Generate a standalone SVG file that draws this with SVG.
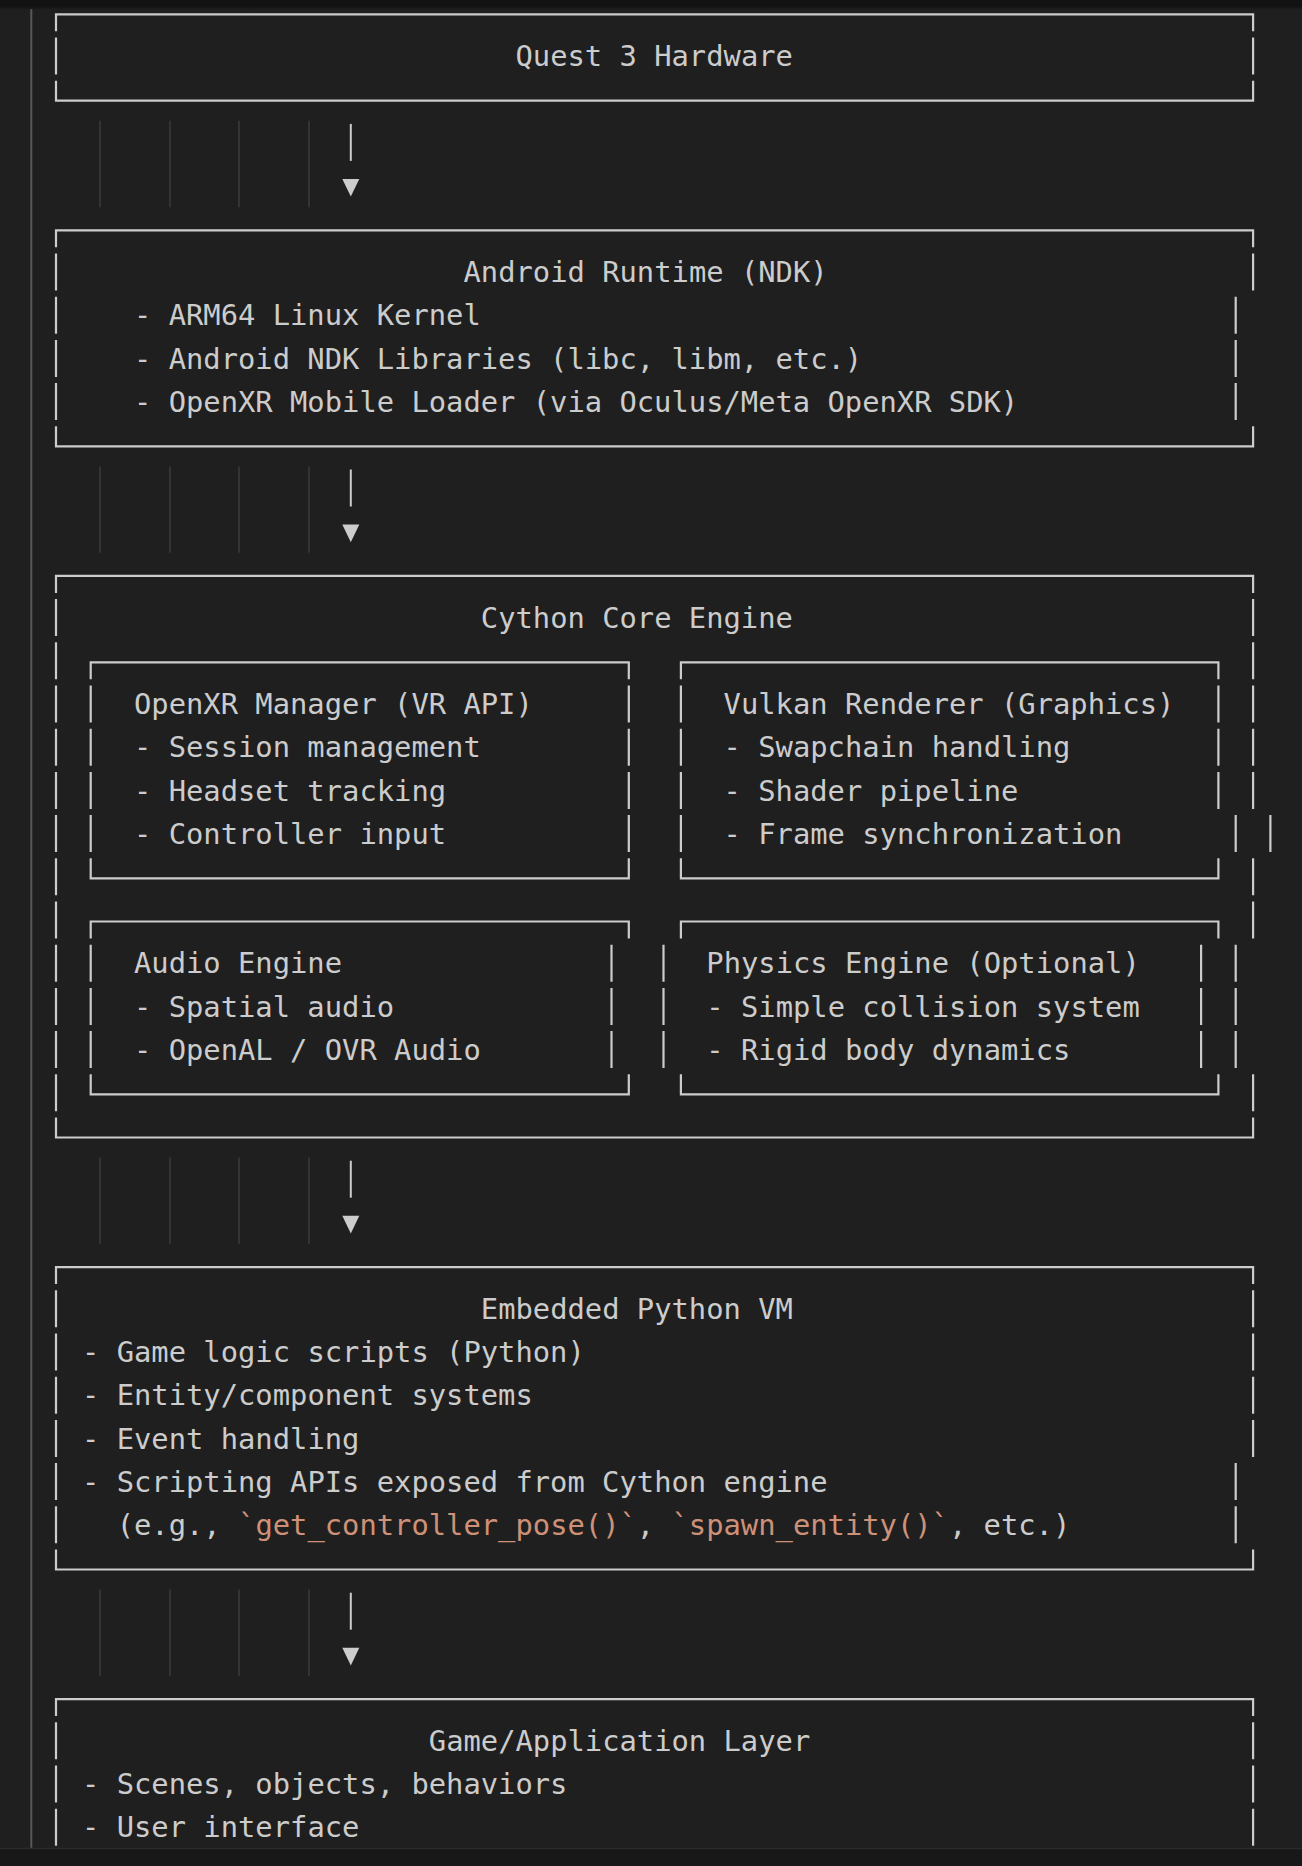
<svg xmlns="http://www.w3.org/2000/svg" width="1302" height="1866" viewBox="0 0 1302 1866">
<style>
.t{font-family:"DejaVu Sans Mono","Liberation Mono",monospace;font-size:28.8px;fill:#cccccc;white-space:pre}
.code{fill:#ce9178}
.box{fill:none;stroke:#cccccc;stroke-width:2.2;stroke-linejoin:miter}
.guide{stroke:#404040;stroke-width:1.3}
.stem{stroke:#cccccc;stroke-width:2}
.head{fill:#cccccc}
</style>
<defs>
<linearGradient id="shadow" x1="0" y1="0" x2="0" y2="1">
<stop offset="0" stop-color="#121212" stop-opacity="1"/>
<stop offset="1" stop-color="#121212" stop-opacity="0"/>
</linearGradient>
<path id="arrowhead" d="M-8.5,-6.6H8.5L0,11Z"/>
</defs>
<rect width="1302" height="1866" fill="#1f1f1f"/>
<line x1="31.3" y1="9" x2="31.3" y2="1848" stroke="#585858" stroke-width="2"/>

<g id="guides">
<path class="guide" d="M100,120.8V207.2M170,120.8V207.2M239,120.8V207.2M309,120.8V207.2"/>
<path class="guide" d="M100,466.4V552.8M170,466.4V552.8M239,466.4V552.8M309,466.4V552.8"/>
<path class="guide" d="M100,1157.6V1244M170,1157.6V1244M239,1157.6V1244M309,1157.6V1244"/>
<path class="guide" d="M100,1589.6V1676M170,1589.6V1676M239,1589.6V1676M309,1589.6V1676"/>
</g>

<g id="connectors">
<g id="c-hw-android"><path class="stem" d="M350.8,123.9V160.9"/><use href="#arrowhead" class="head" x="350.8" y="185.6"/></g>
<g id="c-android-cython"><path class="stem" d="M350.8,469.5V506.5"/><use href="#arrowhead" class="head" x="350.8" y="531.2"/></g>
<g id="c-cython-python"><path class="stem" d="M350.8,1160.7V1197.7"/><use href="#arrowhead" class="head" x="350.8" y="1222.4"/></g>
<g id="c-python-game"><path class="stem" d="M350.8,1592.7V1629.7"/><use href="#arrowhead" class="head" x="350.8" y="1654.4"/></g>
</g>

<g id="quest3">
<path class="box" d="M56,31.3V14.3H1253.1V31.3M56,37.5V74.5M1253.1,37.5V74.5M56,80.7V100.7H1253.1V80.7"/>
<text class="t" x="515.5" y="66.2">Quest 3 Hardware</text>
</g>

<g id="android">
<path class="box" d="M56,247.3V230.3H1253.1V247.3M56,253.5V290.5M1253.1,253.5V290.5M56,296.7V333.7M1235.7,296.7V333.7M56,339.9V376.9M1235.7,339.9V376.9M56,383.1V420.1M1235.7,383.1V420.1M56,426.3V446.3H1253.1V426.3"/>
<text class="t" x="463.5" y="282.2">Android Runtime (NDK)</text>
<text class="t" x="134" y="325.4">- ARM64 Linux Kernel</text>
<text class="t" x="134" y="368.6">- Android NDK Libraries (libc, libm, etc.)</text>
<text class="t" x="134" y="411.8">- OpenXR Mobile Loader (via Oculus/Meta OpenXR SDK)</text>
</g>

<g id="cython">
<path class="box" d="M56,592.9V575.9H1253.1V592.9M56,599.1V636.1M56,642.3V679.3M56,685.5V722.5M56,728.7V765.7M56,771.9V808.9M56,815.1V852.1M56,858.3V895.3M56,901.5V938.5M56,944.7V981.7M56,987.9V1024.9M56,1031.1V1068.1M56,1074.3V1111.3M1253.1,599.1V636.1M1253.1,642.3V679.3M1253.1,685.5V722.5M1253.1,728.7V765.7M1253.1,771.9V808.9M1270.4,815.1V852.1M1253.1,858.3V895.3M1253.1,901.5V938.5M1235.7,944.7V981.7M1235.7,987.9V1024.9M1235.7,1031.1V1068.1M1253.1,1074.3V1111.3M56,1117.5V1137.5H1253.1V1117.5"/>
<text class="t" x="480.8" y="627.8">Cython Core Engine</text>

<g id="openxr-manager">
<path class="box" d="M90.7,679.3V662.3H628.8V679.3M90.7,685.5V722.5M628.8,685.5V722.5M90.7,728.7V765.7M628.8,728.7V765.7M90.7,771.9V808.9M628.8,771.9V808.9M90.7,815.1V852.1M628.8,815.1V852.1M90.7,858.3V878.3H628.8V858.3"/>
<text class="t" x="134" y="714.2">OpenXR Manager (VR API)</text>
<text class="t" x="134" y="757.4">- Session management</text>
<text class="t" x="134" y="800.6">- Headset tracking</text>
<text class="t" x="134" y="843.8">- Controller input</text>
</g>

<g id="vulkan-renderer">
<path class="box" d="M680.9,679.3V662.3H1218.4V679.3M680.9,685.5V722.5M1218.4,685.5V722.5M680.9,728.7V765.7M1218.4,728.7V765.7M680.9,771.9V808.9M1218.4,771.9V808.9M680.9,815.1V852.1M1235.7,815.1V852.1M680.9,858.3V878.3H1218.4V858.3"/>
<text class="t" x="723.6" y="714.2">Vulkan Renderer (Graphics)</text>
<text class="t" x="723.6" y="757.4">- Swapchain handling</text>
<text class="t" x="723.6" y="800.6">- Shader pipeline</text>
<text class="t" x="723.6" y="843.8">- Frame synchronization</text>
</g>

<g id="audio-engine">
<path class="box" d="M90.7,938.5V921.5H628.8V938.5M90.7,944.7V981.7M611.5,944.7V981.7M90.7,987.9V1024.9M611.5,987.9V1024.9M90.7,1031.1V1068.1M611.5,1031.1V1068.1M90.7,1074.3V1094.3H628.8V1074.3"/>
<text class="t" x="134" y="973.4">Audio Engine</text>
<text class="t" x="134" y="1016.6">- Spatial audio</text>
<text class="t" x="134" y="1059.8">- OpenAL / OVR Audio</text>
</g>

<g id="physics-engine">
<path class="box" d="M680.9,938.5V921.5H1218.4V938.5M663.5,944.7V981.7M1201.1,944.7V981.7M663.5,987.9V1024.9M1201.1,987.9V1024.9M663.5,1031.1V1068.1M1201.1,1031.1V1068.1M680.9,1074.3V1094.3H1218.4V1074.3"/>
<text class="t" x="706.3" y="973.4">Physics Engine (Optional)</text>
<text class="t" x="706.3" y="1016.6">- Simple collision system</text>
<text class="t" x="706.3" y="1059.8">- Rigid body dynamics</text>
</g>
</g>

<g id="python-vm">
<path class="box" d="M56,1284.1V1267.1H1253.1V1284.1M56,1290.3V1327.3M56,1333.5V1370.5M56,1376.7V1413.7M56,1419.9V1456.9M56,1463.1V1500.1M56,1506.3V1543.3M1253.1,1290.3V1327.3M1253.1,1333.5V1370.5M1253.1,1376.7V1413.7M1253.1,1419.9V1456.9M1235.7,1463.1V1500.1M1235.7,1506.3V1543.3M56,1549.5V1569.5H1253.1V1549.5"/>
<text class="t" x="480.8" y="1319">Embedded Python VM</text>
<text class="t" x="82" y="1362.2">- Game logic scripts (Python)</text>
<text class="t" x="82" y="1405.4">- Entity/component systems</text>
<text class="t" x="82" y="1448.6">- Event handling</text>
<text class="t" x="82" y="1491.8">- Scripting APIs exposed from Cython engine</text>
<text class="t" x="116.7" y="1535" xml:space="preserve">(e.g., <tspan class="code">`get_controller_pose()`</tspan>, <tspan class="code">`spawn_entity()`</tspan>, etc.)</text>
</g>

<g id="game-layer">
<path class="box" d="M56,1716.1V1699.1H1253.1V1716.1M56,1722.3V1759.3M56,1765.5V1802.5M56,1808.7V1845.7M1253.1,1722.3V1759.3M1253.1,1765.5V1802.5M1253.1,1808.7V1845.7"/>
<text class="t" x="428.8" y="1751">Game/Application Layer</text>
<text class="t" x="82" y="1794.2">- Scenes, objects, behaviors</text>
<text class="t" x="82" y="1837.4">- User interface</text>
</g>

<rect x="0" y="0" width="1302" height="6" fill="#121212"/>
<rect x="0" y="6" width="1302" height="4" fill="url(#shadow)"/>
<rect x="0" y="1848" width="1302" height="18" fill="#181818"/>
<line x1="0" y1="1848.5" x2="1302" y2="1848.5" stroke="#2b2b2b" stroke-width="1.5"/>
</svg>
